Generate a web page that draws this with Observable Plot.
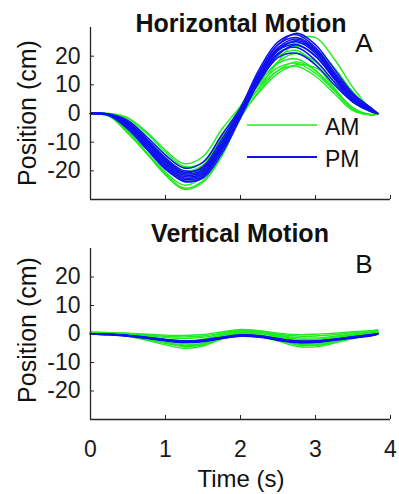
<!DOCTYPE html>
<html>
<head>
<meta charset="utf-8">
<script src="https://cdn.jsdelivr.net/npm/d3@7"></script>
<script src="https://cdn.jsdelivr.net/npm/@observablehq/plot@0.6"></script>
<style>
  body { margin: 0; background: #fff; }
  #wrap { position: relative; width: 399px; height: 494px; overflow: hidden; font-family: "Liberation Sans", Arial, sans-serif; }
  #wrap > svg, #wrap > div { position: absolute; left: 0; }
</style>
</head>
<body>
<div id="wrap"></div>
<script>
// ---- data ----
const times = [0, 0.25, 0.5, 0.75, 1, 1.25, 1.5, 1.75, 2, 2.25, 2.5, 2.75, 3, 3.25, 3.5, 3.75, 3.83];
const xTicks = [0, 1, 2, 3, 4];
const yTicks = [-20, -10, 0, 10, 20];
const xDomain = [0, 4];
const yDomain = [-30, 30];
const seriesNames = ["AM", "PM"];

// Horizontal motion, AM trials (green)
const horizAM = [
  [0, 0, -1.5, -6.5, -12.8, -17.5, -15, -5.5, 2.5, 10, 16, 17.5, 14, 8, 2, -0.3, 0],
  [0, -1, -7, -14, -21.5, -26.5, -24, -15, -1.5, 8, 15, 18, 15, 8.5, 2, -0.5, 0],
  [0, -0.5, -4, -10.5, -17, -21.5, -19.5, -10, 1, 10.5, 18, 21, 18, 11, 4, 0.5, 0],
  [0, -0.2, -2.5, -8, -14.5, -19, -17, -7.5, 2, 11, 17.5, 19, 15, 8, 1.5, -0.5, 0],
  [0, -0.6, -5, -12, -19, -23.5, -21.5, -12, 0, 9, 18, 25.5, 26.5, 19, 9, 1.2, 0],
  [0, -0.1, -1.8, -7, -13.5, -18.5, -17, -9, 0.5, 9, 15, 16.5, 13, 7, 1, -0.4, 0],
  [0, -0.8, -6, -13.5, -20.5, -25, -22, -12, 1, 12, 20, 22, 17, 9, 1.5, -0.5, 0],
  [0, -0.4, -3.5, -10, -16.5, -21, -19, -9.5, 1.5, 12.5, 21, 23.5, 20.5, 13, 5, 0.8, 0],
  [0, -0.9, -6.5, -14, -21, -26, -23.5, -14, -1, 7.5, 14, 17, 16, 11, 4.5, 0.5, 0],
  [0, -0.3, -3, -9, -15.5, -20, -18, -8.5, 2.5, 13, 22, 24.5, 22.5, 16, 7.5, 1, 0]
];
// Horizontal motion, PM trials (blue)
const horizPM = [
  [0, -0.4, -3.8, -10.5, -17, -21.5, -20, -11, 0, 13, 22, 24, 20, 12.5, 5, 1, 0],
  [0, -0.2, -2.5, -8.2, -14.5, -19, -17, -7.5, 2, 15.5, 25, 27.5, 23, 14.5, 6.5, 1.5, 0],
  [0, -0.7, -5.5, -12.5, -19.5, -23.5, -22.5, -14, -1.5, 11, 19.5, 21, 17, 10, 4, 0.5, 0],
  [0, -0.5, -4.2, -11, -17.5, -22, -20.5, -11.5, 0.5, 13.5, 23, 26, 22, 13.5, 5.5, 1.2, 0],
  [0, -0.3, -3, -9, -15.5, -20, -19, -10, 1, 14, 24, 28, 24, 15.5, 7, 1.8, 0],
  [0, -0.6, -5, -12, -18.5, -23, -21.5, -12.5, -0.5, 12, 21, 23, 18.5, 11, 4, 0.8, 0],
  [0, -0.4, -3.5, -10, -16.5, -21, -19.5, -10.5, 0.5, 13, 22.5, 25, 21, 13, 5, 1, 0],
  [0, -0.5, -4.5, -11.5, -18, -22.5, -21, -12, 0, 12.5, 22, 25.5, 21.5, 13, 5, 1, 0],
  [0, -0.3, -3.2, -9.5, -16, -20.5, -18.5, -9, 1.5, 14.5, 24, 26.5, 22.5, 14, 6, 1.5, 0],
  [0, -0.6, -4.8, -12, -19, -23.8, -22, -13, -1, 11.5, 20.5, 24, 20, 12, 4.5, 0.8, 0]
];
// Vertical motion, AM trials (green)
const vertAM = [
  [0.6, 0.5, 0.3, -0.1, -0.4, -0.5, -0.2, 0.7, 1.6, 1.2, 0.3, -0.2, -0.1, 0.3, 0.8, 1.2, 1.4],
  [0.3, 0, -0.8, -2.2, -3.8, -5.0, -4.2, -1.8, -0.3, -0.8, -2.5, -4.3, -4.5, -3.2, -1.6, -0.3, 0.2],
  [0.4, 0.2, -0.3, -1.2, -2.4, -3.2, -2.6, -0.9, 0.6, 0.2, -1.1, -2.4, -2.6, -1.7, -0.6, 0.4, 0.8],
  [0.5, 0.4, 0.1, -0.5, -1.2, -1.6, -1.2, 0, 1.1, 0.7, -0.4, -1.3, -1.4, -0.8, 0, 0.8, 1.1],
  [0.2, -0.1, -0.7, -1.9, -3.3, -4.4, -3.8, -1.7, 0, -0.5, -2.1, -3.8, -4.0, -2.8, -1.3, 0, 0.5],
  [0.5, 0.3, 0, -0.8, -1.8, -2.4, -1.8, -0.4, 0.9, 0.5, -0.7, -1.8, -2.0, -1.2, -0.3, 0.6, 1.0],
  [0.3, 0.1, -0.5, -1.6, -2.9, -3.8, -3.3, -1.4, 0.3, -0.2, -1.6, -3.2, -3.5, -2.4, -1.0, 0.2, 0.6],
  [0.6, 0.5, 0.2, -0.3, -0.8, -1.0, -0.7, 0.4, 1.4, 1.0, 0, -0.7, -0.7, -0.2, 0.5, 1.1, 1.3],
  [0.4, 0.3, -0.1, -0.9, -2.0, -2.8, -2.3, -0.6, 0.8, 0.4, -0.9, -2.1, -2.3, -1.4, -0.4, 0.5, 0.9],
  [0.2, 0, -0.6, -1.7, -3.1, -4.1, -3.5, -1.5, 0.2, -0.3, -1.8, -3.5, -3.8, -2.6, -1.2, 0.1, 0.4]
];
// Vertical motion, PM trials (blue)
const vertPM = [
  [0, -0.2, -0.6, -1.3, -2.1, -2.7, -2.4, -1.4, -0.6, -0.9, -1.9, -2.7, -2.7, -2.0, -1.2, -0.4, 0],
  [0.1, -0.1, -0.5, -1.1, -1.9, -2.4, -2.1, -1.1, -0.3, -0.6, -1.6, -2.4, -2.4, -1.8, -1.0, -0.2, 0.2],
  [0, -0.3, -0.8, -1.5, -2.4, -3.0, -2.7, -1.6, -0.8, -1.1, -2.2, -3.0, -3.0, -2.2, -1.4, -0.6, -0.1],
  [0, -0.2, -0.7, -1.4, -2.2, -2.8, -2.5, -1.5, -0.7, -1.0, -2.0, -2.8, -2.9, -2.1, -1.3, -0.5, 0],
  [0.1, -0.1, -0.5, -1.2, -2.0, -2.5, -2.2, -1.2, -0.5, -0.8, -1.8, -2.6, -2.6, -1.9, -1.1, -0.3, 0.1],
  [0, -0.2, -0.6, -1.4, -2.3, -2.9, -2.5, -1.4, -0.5, -0.9, -2.0, -2.9, -2.8, -2.0, -1.2, -0.4, 0],
  [0, -0.1, -0.5, -1.2, -2.0, -2.6, -2.3, -1.3, -0.4, -0.7, -1.7, -2.5, -2.5, -1.8, -1.0, -0.3, 0.1]
];

// ---- styles ----
const GREEN = "#1fec1f";
const BLUE = "#1010f2";
const AXIS = "#262626";
const FONT = "'Liberation Sans', Arial, sans-serif";

function rows(series, group) {
  return series.flatMap((vals, i) => vals.map((v, j) => ({ t: times[j], v, id: group + i })));
}

function panel({ am, pm, height, marginTop, marginBottom, showXLabels }) {
  return Plot.plot({
    width: 399,
    height,
    marginLeft: 90,
    marginRight: 9,
    marginTop,
    marginBottom,
    x: { domain: xDomain },
    y: { domain: yDomain },
    style: { fontFamily: FONT, fontSize: "23px", color: "#1a1a1a", background: "transparent", overflow: "visible" },
    marks: [
      Plot.line(rows(am, "AM"), { x: "t", y: "v", z: "id", stroke: GREEN, strokeWidth: 1.4, curve: "catmull-rom" }),
      Plot.line(rows(pm, "PM"), { x: "t", y: "v", z: "id", stroke: BLUE, strokeWidth: 1.5, curve: "catmull-rom" }),
      Plot.ruleX([xDomain[0]], { stroke: AXIS, strokeWidth: 1.3 }),
      Plot.ruleY([yDomain[0]], { stroke: AXIS, strokeWidth: 1.3 }),
      Plot.axisY({ ticks: yTicks, tickSize: -4, tickPadding: 14, tickFormat: d => String(d), label: null, fontSize: 23, stroke: AXIS }),
      Plot.axisX({ ticks: xTicks, tickSize: -4, tickPadding: 25, tickFormat: showXLabels ? (d => String(d)) : (() => ""), label: null, fontSize: 23, stroke: AXIS })
    ]
  });
}

const wrap = document.getElementById("wrap");

const topPanel = panel({ am: horizAM, pm: horizPM, height: 210, marginTop: 27, marginBottom: 11, showXLabels: false });
topPanel.style.top = "0px";
wrap.appendChild(topPanel);

const bottomPanel = panel({ am: vertAM, pm: vertPM, height: 284, marginTop: 38, marginBottom: 75, showXLabels: true });
bottomPanel.style.top = "210px";
wrap.appendChild(bottomPanel);

// ---- annotations: titles, panel letters, axis labels, legend ----
const ns = "http://www.w3.org/2000/svg";
const ov = document.createElementNS(ns, "svg");
ov.setAttribute("width", 399);
ov.setAttribute("height", 494);
ov.style.top = "0px";
ov.style.fontFamily = FONT;
wrap.appendChild(ov);

function txt(s, x, y, opts = {}) {
  const t = document.createElementNS(ns, "text");
  t.textContent = s;
  t.setAttribute("x", x);
  t.setAttribute("y", y);
  t.setAttribute("fill", opts.fill || "#111");
  t.setAttribute("font-size", opts.size || 22);
  if (opts.bold) t.setAttribute("font-weight", "bold");
  t.setAttribute("text-anchor", opts.anchor || "middle");
  if (opts.rotate) {
    t.setAttribute("transform", `rotate(-90 ${x} ${y})`);
    t.setAttribute("dominant-baseline", "central");
  }
  ov.appendChild(t);
}
function seg(x1, x2, y, color, w) {
  const l = document.createElementNS(ns, "line");
  l.setAttribute("x1", x1); l.setAttribute("x2", x2);
  l.setAttribute("y1", y); l.setAttribute("y2", y);
  l.setAttribute("stroke", color); l.setAttribute("stroke-width", w);
  ov.appendChild(l);
}

txt("Horizontal Motion", 241, 32, { size: 25, bold: true });
txt("A", 364, 52, { size: 26 });
txt("Vertical Motion", 240, 242, { size: 25, bold: true });
txt("B", 364, 273, { size: 26 });
txt("Position (cm)", 27, 113, { size: 25, rotate: true });
txt("Position (cm)", 27, 330, { size: 25, rotate: true });
txt("Time (s)", 241, 487, { size: 24 });

// legend
seg(247, 317, 125, GREEN, 1.6);
txt(seriesNames[0], 325, 135, { size: 23, anchor: "start" });
seg(247, 317, 157, BLUE, 2.2);
txt(seriesNames[1], 325, 167, { size: 23, anchor: "start" });
</script>
</body>
</html>
